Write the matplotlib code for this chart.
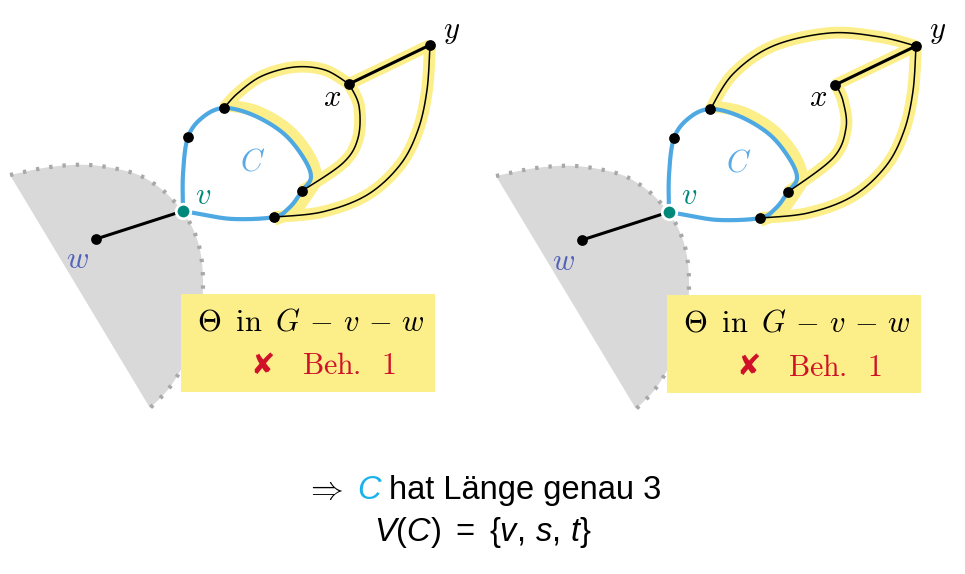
import numpy as np
import matplotlib
matplotlib.use("Agg")
import matplotlib.pyplot as plt

# ---------------------------------------------------------------- data ----
# all coordinates in pixels of the left panel (y grows downwards)
PANEL_SHIFT = [(0, 0), (486, 1)]

node_v = (183, 211)
node_w = (96, 239)
node_p = (188, 137)
node_a = (224, 108)
node_b = (302, 191)
node_c = (274, 217)
node_x = (349, 84)
node_y = (430, 45)

# blue cycle C (closed, through v)
cycle_pts = [(183, 211), (183, 174), (188, 137), (203, 117), (224, 108),
             (253, 115), (283, 133), (303, 157), (311, 177), (302, 191),
             (290, 207), (274, 217), (233, 219), (200, 214), (183, 211)]
# part of C lying on Theta (yellow, slightly outside)
cycle_hl = [(224, 105), (256, 111), (287, 129), (308, 154), (316, 177),
            (307, 195), (294, 211), (274, 220)]

# panel specific edges
edge_ax_left = [(224, 108), (238, 93), (262, 76), (295, 67), (325, 70), (349, 84)]
edge_xb_left = [(349, 84), (359, 106), (358, 138), (343, 163), (302, 191)]
edge_ay_right = [(224, 109), (247, 73), (287, 45), (344, 32), (394, 36), (430, 45)]
edge_xb_right = [(350, 84), (357, 100), (360, 127), (347, 157), (302, 191)]
edge_yc = [(430, 45), (427, 90), (418, 130), (400, 165), (367, 195),
           (322, 212), (274, 217)]

# grey region behind v
grey_arc = [(10, 175), (50, 167), (90, 165), (130, 172), (153, 183),
            (173, 200), (190, 223), (200, 250), (203, 283), (200, 317),
            (187, 357), (170, 387), (150, 408)]

labels = [("y", 452, 31, "black"), ("x", 332, 97, "black"),
          ("C", 253, 162, "#5aaae6"), ("v", 203, 195, "#00897b"),
          ("w", 78, 260, "#5262b8")]

box = (181, 294, 254, 98)   # x, y, width, height
box_line1 = r"$\Theta\;\;\mathrm{in}\;\;G\,-\,v\,-\,w$"
box_line2 = r"$\mathrm{Beh.}\;\;\mathrm{1}$"

bottom_line1 = [r"$\Rightarrow$", "C", "hat Länge genau 3"]
bottom_line2 = r"$V(C)\ =\ \{v,\,s,\,t\}$"

YELLOW = "#fcee88"
BLUE = "#4ea8e2"
RED = "#cf1229"
CYAN = "#1ab2ea"

plt.rcParams["mathtext.fontset"] = "custom"
plt.rcParams["mathtext.rm"] = "Liberation Sans"
plt.rcParams["mathtext.it"] = "Liberation Sans:italic"


def smooth(pts, n=24):
    """Catmull-Rom curve through the given points."""
    pts = np.asarray(pts, float)
    P = np.vstack([pts[0], pts, pts[-1]])
    out = []
    t = np.linspace(0, 1, n, endpoint=False)[:, None]
    for i in range(1, len(P) - 2):
        p0, p1, p2, p3 = P[i - 1], P[i], P[i + 1], P[i + 2]
        out.append(0.5 * (2 * p1 + (-p0 + p2) * t
                          + (2 * p0 - 5 * p1 + 4 * p2 - p3) * t ** 2
                          + (-p0 + 3 * p1 - 3 * p2 + p3) * t ** 3))
    out.append(P[-2][None])
    return np.vstack(out)


def shifted(pts, d):
    return [(px + d[0], py + d[1]) for px, py in pts]


fig = plt.figure(figsize=(9.65, 5.74), dpi=100)
ax = fig.add_axes([0, 0, 1, 1])
ax.set_xlim(0, 965)
ax.set_ylim(574, 0)
ax.axis("off")

for k, d in enumerate(PANEL_SHIFT):
    # grey region
    arc = smooth(shifted(grey_arc, d))
    ax.fill(arc[:, 0], arc[:, 1], color="#d9d9d9", lw=0, zorder=1)
    ax.plot(arc[:, 0], arc[:, 1], color="#a8a8a8", lw=3,
            linestyle=(0, (0.8, 2.4)), zorder=1.1)

    if k == 0:
        black_edges = [edge_ax_left, edge_xb_left, edge_yc]
    else:
        black_edges = [edge_ay_right, edge_xb_right, edge_yc]

    # yellow highlight of Theta
    for e in black_edges + [cycle_hl]:
        c = smooth(shifted(e, d))
        ax.plot(c[:, 0], c[:, 1], color=YELLOW, lw=8.5, solid_capstyle="butt",
                solid_joinstyle="round", zorder=2)
    xy = shifted([node_x, node_y], d)
    ax.plot([xy[0][0], xy[1][0]], [xy[0][1], xy[1][1]], color=YELLOW, lw=8.5,
            solid_capstyle="butt", zorder=2)

    # cycle C
    c = smooth(shifted(cycle_pts, d))
    ax.plot(c[:, 0], c[:, 1], color=BLUE, lw=3, zorder=3)

    # thin black edges
    for e in black_edges:
        c = smooth(shifted(e, d))
        ax.plot(c[:, 0], c[:, 1], color="black", lw=1.1, zorder=4)
    ax.plot([xy[0][0], xy[1][0]], [xy[0][1], xy[1][1]], color="black",
            lw=2.2, zorder=4)
    vw = shifted([node_v, node_w], d)
    ax.plot([vw[0][0], vw[1][0]], [vw[0][1], vw[1][1]], color="black",
            lw=2.2, zorder=4)

    # nodes
    pts = shifted([node_w, node_p, node_a, node_b, node_c, node_x, node_y], d)
    ax.scatter([p[0] for p in pts], [p[1] for p in pts], s=60,
               color="black", zorder=5, lw=0)
    v = shifted([node_v], d)[0]
    ax.scatter([v[0]], [v[1]], s=110, color="#00897b", edgecolor="white",
               lw=2, zorder=6)

    for txt, lx, ly, col in labels:
        ax.text(lx + d[0], ly + d[1], "$" + txt + "$", color=col,
                fontsize=22, ha="center", va="center", math_fontfamily="cm",
                zorder=7)

    # yellow box
    bx, by, bw, bh = box
    ax.add_patch(plt.Rectangle((bx + d[0], by + d[1]), bw, bh,
                               color=YELLOW, lw=0, zorder=6))
    ax.text(bx + d[0] + 16, by + d[1] + 28, box_line1, fontsize=22,
            ha="left", va="center", math_fontfamily="cm", zorder=7)
    ax.text(bx + d[0] + 82, by + d[1] + 72, "✘", fontsize=21, color=RED,
            ha="center", va="center", family="DejaVu Sans", zorder=7)
    ax.text(bx + d[0] + 121, by + d[1] + 72, box_line2, fontsize=21.5,
            color=RED, ha="left", va="center", math_fontfamily="cm", zorder=7)

# bottom statement
renderer = fig.canvas.get_renderer()
FS = 23.5
pieces = [
    ax.text(0, 499, bottom_line1[0], fontsize=FS, ha="left",
            va="baseline", math_fontfamily="cm"),
    ax.text(0, 499, bottom_line1[1], fontsize=FS, ha="left", va="baseline",
            style="italic", color=CYAN, family="Liberation Sans"),
    ax.text(0, 499, bottom_line1[2], fontsize=FS, ha="left", va="baseline",
            family="Liberation Sans"),
]
gaps = [14, 8]
widths = [p.get_window_extent(renderer).width for p in pieces]
total = sum(widths) + sum(gaps)
x0 = 483 - total / 2
for i, p in enumerate(pieces):
    p.set_x(x0)
    x0 += widths[i] + (gaps[i] if i < len(gaps) else 0)

ax.text(483, 541, bottom_line2, fontsize=FS, ha="center", va="baseline",
        math_fontfamily="custom")

fig.savefig("out.png", dpi=100)
